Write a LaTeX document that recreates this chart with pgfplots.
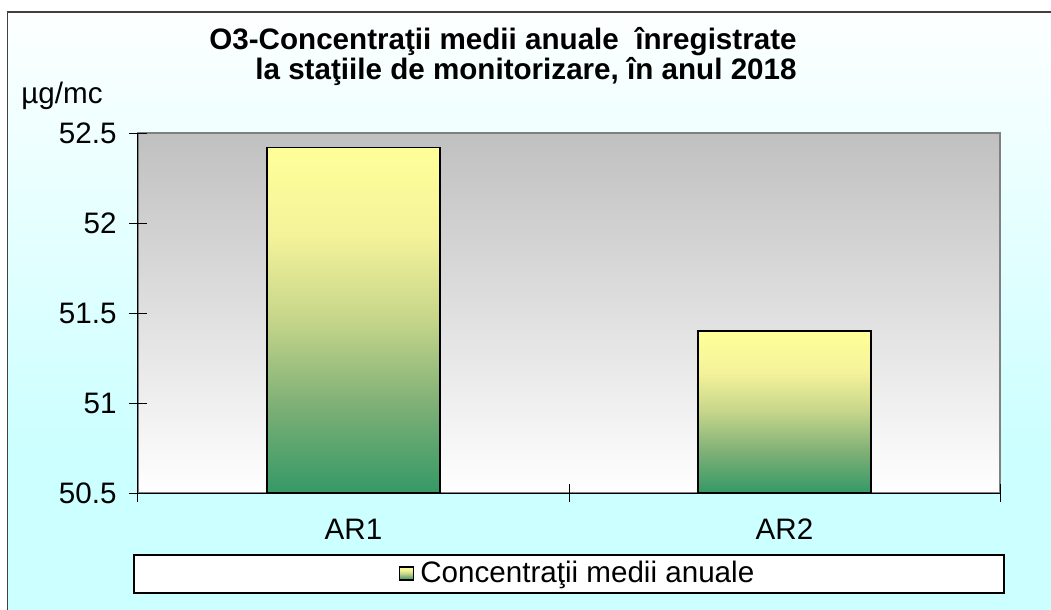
\documentclass[border=0pt]{standalone}
\usepackage{pgfplots}
\pgfplotsset{compat=1.18}
\usepackage{fontspec}
\setmainfont{Liberation Sans}

\definecolor{barTop}{HTML}{FFFF99}
\definecolor{barQ1}{HTML}{F5F39A}
\definecolor{barMid}{HTML}{C5D58A}
\definecolor{barQ3}{HTML}{7DAF76}
\definecolor{barBot}{HTML}{349966}
\definecolor{bgCyan}{HTML}{CCFFFF}
\definecolor{plotGray}{HTML}{C0C0C0}

\pgfdeclareverticalshading{barshade}{100bp}{color(0bp)=(barBot); color(25bp)=(barBot);
  color(37.5bp)=(barQ3); color(50bp)=(barMid); color(62.5bp)=(barQ1);
  color(75bp)=(barTop); color(100bp)=(barTop)}

\newcommand{\chartfont}{\fontsize{14.8}{15}\selectfont}

\begin{document}
\chartfont
\begin{tikzpicture}
% page = 1051 x 610 px, 1 px = 0.5pt
\useasboundingbox (0,0) rectangle (525.5pt,-305pt);
\fill[white] (0,0) rectangle (525.5pt,-305pt);
\shade[top color=white!96!bgCyan, bottom color=bgCyan] (3.75pt,-6pt) rectangle (530pt,-225pt);
\fill[bgCyan] (3.75pt,-225pt) rectangle (530pt,-310pt);
\draw[black!75, line width=0.6pt] (3.75pt,-310pt) -- (3.75pt,-6pt) -- (530pt,-6pt);

% legend frame
\draw[fill=white, draw=black, line width=0.6pt] (67pt,-277.5pt) rectangle (502pt,-296.5pt);

\node[anchor=base east, font=\chartfont\bfseries, inner sep=0pt] at (398.5pt,-25pt) {O3-Concentraţii medii anuale~ înregistrate};
\node[anchor=base east, font=\chartfont\bfseries, inner sep=0pt] at (398.5pt,-40pt) {la staţiile de monitorizare, în anul 2018};

\begin{axis}[
  at={(69pt,-66.5pt)}, anchor=north west,
  scale only axis, width=431pt, height=180pt,
  ybar, bar width=0.4,
  xmin=-0.5, xmax=1.5, ymin=0, ymax=2,
  axis lines=left, axis line style={-, black, line width=0.5pt},
  axis background/.style={top color=plotGray, bottom color=white, draw=gray, line width=1pt},
  xtick={0,1}, xticklabels={AR1,AR2},
  major x tick style={draw=none},
  minor xtick={-0.5,0.5,1.5}, minor tick length=9pt,
  minor x tick style={draw=black, line width=0.5pt},
  ytick={0,0.5,1,1.5,2}, yticklabels={50.5,51,51.5,52,52.5},
  major tick length=9pt, tick align=center,
  y tick style={black, line width=0.5pt},
  tick label style={font=\chartfont},
  /pgf/number format/assume math mode=true,
  yticklabel style={anchor=east, inner sep=0pt, xshift=-6pt},
  xticklabel style={anchor=north, inner sep=0pt, text height=10.8pt, text depth=0pt, yshift=-7.5pt},
  ylabel={µg/mc},
  ylabel style={at={(axis description cs:-0.1357,1.0806)}, rotate=-90, anchor=base west, inner sep=0pt, font=\chartfont},
  legend style={at={(axis description cs:0.51,-0.2236)}, anchor=center,
    draw=none, fill=none, inner sep=0pt, column sep=2pt,
    nodes={inner sep=1pt},
    font=\chartfont},
  legend cell align=left,
  every axis plot/.append style={bar shift=0pt, draw=black, line width=0.9pt,
    shading=barshade, y filter/.expression={y-50.5}},
]
\addplot[legend image code/.code={\draw[shading=barshade, draw=black, line width=0.7pt] (0pt,-3.3pt) rectangle (7pt,3.3pt);}]
  coordinates {(0,52.42)};
\addlegendentry{Concentraţii medii anuale}
\addplot[forget plot] coordinates {(1,51.40)};
\end{axis}
\end{tikzpicture}
\end{document}
